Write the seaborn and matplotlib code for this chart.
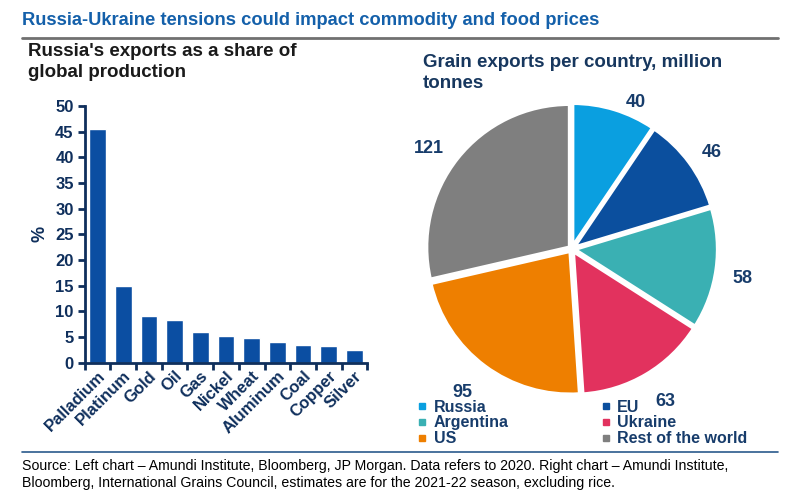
import numpy as np
import pandas as pd
import matplotlib.pyplot as plt
import seaborn as sns
from matplotlib.lines import Line2D

# Left chart: Russia's exports as a share of global production (%)
commodities = ["Palladium", "Platinum", "Gold", "Oil", "Gas", "Nickel",
               "Wheat", "Aluminum", "Coal", "Copper", "Silver"]
share_pct = [45.5, 15.0, 9.1, 8.3, 6.1, 5.2, 4.9, 4.1, 3.4, 3.2, 2.5]
y_ticks = [0, 5, 10, 15, 20, 25, 30, 35, 40, 45, 50]

# Right chart: grain exports per country, million tonnes
countries = ["Russia", "EU", "Argentina", "Ukraine", "US", "Rest of the world"]
grain_mt = [40, 46, 58, 63, 95, 121]

NAVY = "#0f2f5c"
BAR_BLUE = "#0b4ea2"
pie_colors = ["#0a9fe0", "#0b4f9e", "#3ab0b3", "#e2325e", "#ee7f00", "#7f7f7f"]

sns.set_theme(style="white")
plt.rcParams["font.family"] = ["Liberation Sans", "DejaVu Sans"]

fig = plt.figure(figsize=(8, 5.04), dpi=100)

# header and footer
fig.text(0.028, 0.96, "Russia-Ukraine tensions could impact commodity and food prices",
         fontsize=13.2, fontweight="bold", color="#1460aa", va="center")
fig.add_artist(Line2D([0.028, 0.972], [0.925, 0.925], color="#707070", lw=2))
fig.add_artist(Line2D([0.028, 0.972], [0.103, 0.103], color="#2a5a8c", lw=1.2))
fig.text(0.028, 0.089, "Source: Left chart – Amundi Institute, Bloomberg, JP Morgan. Data refers to 2020. "
         "Right chart – Amundi Institute,\nBloomberg, International Grains Council, estimates are for the "
         "2021-22 season, excluding rice.",
         fontsize=10.2, color="black", va="top", linespacing=1.3)

fig.text(0.035, 0.877, "Russia's exports as a share of\nglobal production",
         fontsize=13.5, fontweight="bold", color="#1a1a1a", va="center", linespacing=1.3)
fig.text(0.529, 0.855, "Grain exports per country, million\ntonnes",
         fontsize=13.5, fontweight="bold", color="#17375e", va="center", linespacing=1.3)

# bar chart
ax1 = fig.add_axes([0.106, 0.280, 0.353, 0.510])
df = pd.DataFrame({"commodity": commodities, "share": share_pct})
sns.barplot(data=df, x="commodity", y="share", color=BAR_BLUE, saturation=1,
            width=0.65, ax=ax1)
ax1.set_xlim(-0.5, len(commodities) - 0.5)
ax1.set_ylim(0, 50)
ax1.set_yticks(y_ticks)
ax1.set_xlabel("")
ax1.set_ylabel("%", fontsize=13, fontweight="bold", color=NAVY, labelpad=5)
for side in ["top", "right"]:
    ax1.spines[side].set_visible(False)
for side in ["left", "bottom"]:
    ax1.spines[side].set_color(NAVY)
    ax1.spines[side].set_linewidth(2)
ax1.set_xticks(np.arange(-0.5, len(commodities)), minor=True)
ax1.tick_params(axis="x", which="major", length=0, pad=4)
ax1.tick_params(axis="x", which="minor", length=5, width=2, color=NAVY, direction="out", bottom=True)
ax1.tick_params(axis="y", length=5, width=2, color=NAVY, direction="out", left=True, pad=3)
for lab in ax1.get_xticklabels():
    lab.set_rotation(45)
    lab.set_ha("right")
    lab.set_rotation_mode("anchor")
    lab.set_fontsize(12)
    lab.set_fontweight("bold")
    lab.set_color(NAVY)
for lab in ax1.get_yticklabels():
    lab.set_fontsize(12)
    lab.set_fontweight("bold")
    lab.set_color(NAVY)

# pie chart
ax2 = fig.add_axes([0.461, 0.103, 0.5075, 0.806])
wedges, texts = ax2.pie(grain_mt, labels=[str(v) for v in grain_mt], colors=pie_colors,
                        startangle=90, counterclock=False, explode=[0.02] * 6,
                        wedgeprops=dict(edgecolor="white", linewidth=2.5),
                        textprops=dict(fontsize=13, fontweight="bold", color="#173c6b"))
ax2.set_xlim(-1.42, 1.42)
ax2.set_ylim(-1.42, 1.42)
ax2.set_aspect("equal")

# value labels: distance from centre and small angular nudge (degrees, clockwise)
label_dist = [1.12, 1.19, 1.21, 1.25, 1.26, 1.22]
label_nudge = [6.5, 2, 2, -1, 0.7, -3.5]
for w, t, d, nudge in zip(wedges, texts, label_dist, label_nudge):
    ang = np.deg2rad((w.theta1 + w.theta2) / 2 - nudge)
    t.set_position((d * np.cos(ang), d * np.sin(ang)))
    t.set_ha("center")
    t.set_va("center")

handles = [Line2D([], [], marker="s", ls="", markersize=5, color=c) for c in pie_colors]
order = [0, 2, 4, 1, 3, 5]
leg = fig.legend([handles[i] for i in order], [countries[i] for i in order],
                 loc="upper left", bbox_to_anchor=(0.512, 0.223), ncol=2, frameon=False,
                 handlelength=0.6, handletextpad=0.4, columnspacing=5.8,
                 labelspacing=0.05, borderpad=0, prop=dict(weight="bold", size=11.5))
for t in leg.get_texts():
    t.set_color("#173c6b")

fig.savefig("out.png", dpi=100)
